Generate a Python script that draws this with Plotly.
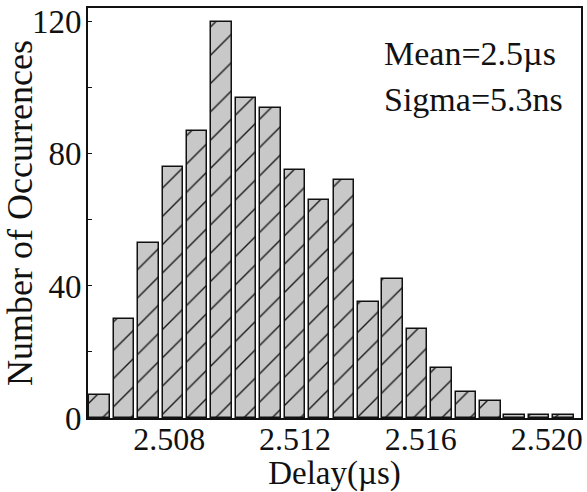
import plotly.graph_objects as go

# Histogram of measured delays (bin centres in µs) and counts per bin
delay_bins = [2.50579, 2.50657, 2.50734, 2.50812, 2.50889, 2.50967, 2.51045,
              2.51122, 2.51200, 2.51277, 2.51355, 2.51433, 2.51510, 2.51588,
              2.51665, 2.51743, 2.51821, 2.51898, 2.51976, 2.52053]
counts = [7, 30, 53, 76, 87, 120, 97, 94, 75, 66, 72, 35, 42, 27, 15, 8, 5, 1, 1, 1]

x_ticks = [2.508, 2.512, 2.516, 2.520]
x_tick_labels = ["2.508", "2.512", "2.516", "2.520"]
y_ticks = [0, 40, 80, 120]

stats_text = ["Mean=2.5\u00b5s", "Sigma=5.3ns"]

SERIF = "Liberation Serif"

fig = go.Figure()
fig.add_trace(go.Bar(
    x=delay_bins,
    y=counts,
    width=0.00065,
    marker=dict(
        color="#c8c8c8",
        line=dict(color="#111111", width=1.5),
        pattern=dict(shape="/", bgcolor="#c8c8c8", fgcolor="#1a1a1a",
                     size=20, solidity=0.07, fillmode="replace"),
    ),
    showlegend=False,
))

for i, txt in enumerate(stats_text):
    fig.add_annotation(
        x=0.5965, y=[0.89, 0.778][i], xref="paper", yref="paper",
        xanchor="left", yanchor="middle", showarrow=False,
        text=txt, font=dict(family=SERIF, size=34, color="#111111"),
    )

fig.update_layout(
    width=587, height=492,
    margin=dict(l=88, r=6, t=8, b=74, autoexpand=False),
    paper_bgcolor="white",
    plot_bgcolor="white",
    font=dict(family=SERIF, color="#111111"),
    bargap=0,
)

fig.update_xaxes(
    range=[2.50542, 2.52109],
    tickvals=x_ticks, ticktext=x_tick_labels,
    tickfont=dict(size=32, family=SERIF, color="#111111"),
    ticks="", ticklabelstandoff=-8, automargin=False,
    showgrid=False, zeroline=False,
    showline=True, linecolor="#111111", linewidth=2, mirror=True,
    title=dict(text="Delay(\u00b5s)", font=dict(size=33, family=SERIF), standoff=4),
)
fig.update_yaxes(
    range=[0, 124.2],
    tickvals=y_ticks,
    tickfont=dict(size=33, family=SERIF, color="#111111"),
    ticks="inside", ticklen=4, tickwidth=1, tickcolor="#111111",
    ticklabelstandoff=-2, automargin=False,
    minor=dict(dtick=20, ticks="inside", ticklen=4, tickcolor="#111111", showgrid=False),
    showgrid=False, zeroline=False,
    showline=True, linecolor="#111111", linewidth=2, mirror=True,
    title=dict(text="Number of Occurrences", font=dict(size=36, family=SERIF), standoff=0),
)

fig.write_html("out.html")
